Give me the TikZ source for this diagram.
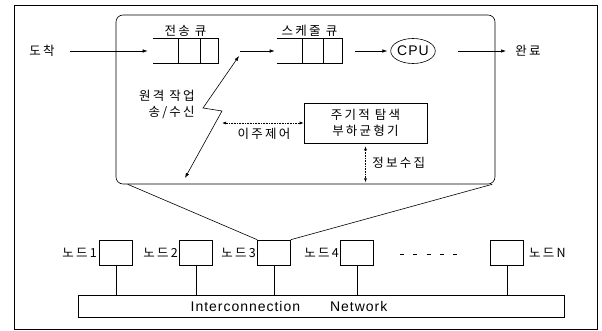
\documentclass[tikz,border=0pt]{standalone}
\usepackage{fontspec}
\setmainfont{Liberation Sans}[LetterSpace=7]
\newfontfamily\krfont{Noto Sans CJK KR}[LetterSpace=18]
\usetikzlibrary{positioning,shapes.geometric,arrows.meta}

\tikzset{
  kr/.style={font=\krfont\fontsize{12.5}{16}\selectfont, inner sep=1pt},
  en/.style={font=\fontsize{14}{16}\selectfont, inner sep=1pt},
  queue/.style={minimum width=65pt, minimum height=25pt, inner sep=0pt},
  hostbox/.style={draw, minimum width=33pt, minimum height=25pt, inner sep=0pt},
  flow/.style={-{Latex[length=5pt,width=3.5pt]}},
  dotflow/.style={densely dotted, {Latex[length=4pt,width=3pt]}-{Latex[length=4pt,width=3pt]}},
}

\begin{document}
\begin{tikzpicture}[x=1pt, y=-1pt, line width=0.6pt]
\useasboundingbox (0,0) rectangle (602,331);

% Frame
\draw[line width=0.5pt] (14,5) rectangle (597,329);

% One host, zoomed in
\node[draw, rounded corners=7pt, minimum width=379pt, minimum height=169pt] (inner) at (305.5,99.5) {};

% Queues
\node[queue] (sendq) at (185.5,51) {};
\draw (sendq.north west) -- (sendq.north east) -- (sendq.south east) -- (sendq.south west);
\draw ([xshift=-40pt]sendq.north east) -- ([xshift=-40pt]sendq.south east);
\draw ([xshift=-18pt]sendq.north east) -- ([xshift=-18pt]sendq.south east);
\node[kr, above=0pt of sendq] (sendqlbl) {전송 큐};

\node[queue] (schedq) at (309.5,51) {};
\draw (schedq.north west) -- (schedq.north east) -- (schedq.south east) -- (schedq.south west);
\draw ([xshift=-40pt]schedq.north east) -- ([xshift=-40pt]schedq.south east);
\draw ([xshift=-19pt]schedq.north east) -- ([xshift=-19pt]schedq.south east);
\node[kr, above=0pt of schedq] (schedqlbl) {스케줄 큐};

\node[draw, ellipse, en, minimum width=40pt, minimum height=25pt, inner sep=0pt] (cpu) at (413,51) {CPU};

% Job flow
\node[kr] (arrive) at (42,51) {도착};
\node[kr, anchor=west] (done) at (514,51) {완료};
\coordinate (merge) at (240,51);
\draw[flow, shorten <=14pt, shorten >=5pt] (arrive.east) -- (sendq.west);
\draw[flow, shorten >=2pt] (merge) -- (schedq.west);
\draw[flow, shorten <=13pt, shorten >=3pt] (schedq.east) -- (cpu.west);
\draw[flow, shorten <=22pt, shorten >=8pt] (cpu.east) -- (done.west);

% Remote send/receive
\coordinate (bolta) at (239,56);
\coordinate (boltb) at (203,108);
\coordinate (boltc) at (222,111);
\coordinate (boltd) at (185,178);
\draw[{Latex[length=5pt,width=3.5pt]}-{Latex[length=5pt,width=3.5pt]}] (bolta) -- (boltb) -- (boltc) -- (boltd);
\node[kr, align=right, anchor=east] (remote) at (196,104) {원격 작업\\송/수신};

% Load balancer
\node[draw, kr, align=center, minimum width=123pt, minimum height=40pt] (lb) at (365.5,123) {주기적 탐색\\부하균형기};
\coordinate (mig) at (222,123);
\draw[dotflow] (mig) -- (lb.west);
\node[kr] (miglbl) at (264,134) {이주제어};
\draw[dotflow, shorten <=3pt, shorten >=2pt] (lb.south) -- (lb.south |- inner.south);
\node[kr, anchor=west] (infolbl) at (371,163) {정보수집};

% Hosts
\foreach \nm/\x in {n1/116, n2/196, n3/274, n4/357, nn/507}
  \node[hostbox] (\nm) at (\x,252.5) {};
\node[kr, left=1pt of n1] (n1lbl) {노드1};
\node[kr, left=0pt of n2] (n2lbl) {노드2};
\node[kr, left=0pt of n3] (n3lbl) {노드3};
\node[kr, left=0pt of n4] (n4lbl) {노드4};
\node[kr, right=4pt of nn] (nnlbl) {노드N};
\draw[dash pattern=on 4pt off 9.25pt] (400,254) -- (457,254);

% Zoom lines
\draw ([xshift=12pt]inner.south west) -- (n3.north west);
\draw ([xshift=-3pt]inner.south east) -- (n3.north east);

% Network
\node[draw, minimum width=486pt, minimum height=22pt] (net) at (321,306) {};
\node[en] (netlbl) at (289,306) {Interconnection\hspace{30pt}Network};
\foreach \nm in {n1,n2,n3,n4,nn}
  \draw (\nm.south) -- (\nm.south |- net.north);
\end{tikzpicture}
\end{document}
